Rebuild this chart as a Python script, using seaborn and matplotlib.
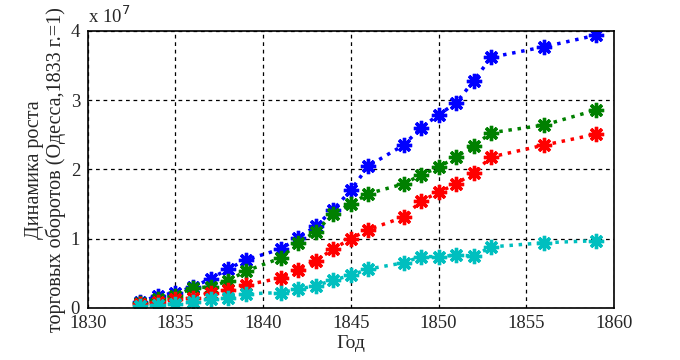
import numpy as np
import pandas as pd
import seaborn as sns
import matplotlib
matplotlib.use("Agg")
import matplotlib.pyplot as plt


years = [1833, 1834, 1835, 1836, 1837, 1838, 1839, 1841, 1842, 1843, 1844,
         1845, 1846, 1848, 1849, 1850, 1851, 1852, 1853, 1856, 1859]

# values in units of 1e7
blue = [0.09, 0.17, 0.22, 0.30, 0.42, 0.56, 0.69, 0.85, 1.01, 1.18, 1.42,
        1.70, 2.05, 2.35, 2.60, 2.79, 2.96, 3.28, 3.62, 3.77, 3.94]
green = [0.07, 0.12, 0.17, 0.29, 0.30, 0.39, 0.53, 0.72, 0.94, 1.10, 1.36,
         1.50, 1.65, 1.79, 1.92, 2.03, 2.18, 2.34, 2.53, 2.64, 2.86]
red = [0.05, 0.08, 0.12, 0.14, 0.22, 0.26, 0.33, 0.43, 0.55, 0.68, 0.85,
       1.00, 1.13, 1.31, 1.54, 1.67, 1.79, 1.95, 2.18, 2.35, 2.51]
cyan = [0.02, 0.04, 0.06, 0.09, 0.13, 0.14, 0.20, 0.22, 0.27, 0.32, 0.40,
        0.47, 0.56, 0.65, 0.74, 0.74, 0.76, 0.75, 0.88, 0.94, 0.97]

series = ["s1", "s2", "s3", "s4"]
colors = [(0, 0, 1), (0, 0.5, 0), (1, 0, 0), (0, 0.75, 0.75)]


def main():
  sns.set_style("white")
  plt.rcParams["font.family"] = ["Liberation Serif", "DejaVu Serif"]
  plt.rcParams["font.size"] = 13

  df = pd.DataFrame({
    "year": years * 4,
    "value": np.concatenate([blue, green, red, cyan]) * 1e7,
    "series": np.repeat(series, len(years)),
  })

  fig, ax = plt.subplots(figsize=(6.8, 3.6), dpi=100)
  fig.subplots_adjust(left=0.129, right=0.903, top=0.914, bottom=0.145)

  sns.lineplot(data=df, x="year", y="value", hue="series", palette=colors,
               linestyle=":", linewidth=2.5, legend=False, ax=ax)
  # MATLAB-style bold asterisk markers
  for line, c in zip(ax.get_lines(), colors):
    line.set_marker((8, 2, 0))
    line.set_markersize(11)
    line.set_markeredgewidth(2.4)
    line.set_markeredgecolor(c)
    line.set_markerfacecolor(c)

  ax.set_xlim(1830, 1860)
  ax.set_ylim(0, 4e7)
  ax.set_xticks(np.arange(1830, 1861, 5))
  ax.set_yticks(np.arange(0, 4.1e7, 1e7))
  ax.set_yticklabels(["0", "1", "2", "3", "4"])
  ax.grid(True, color="black", linestyle="--", linewidth=0.9, dashes=(3, 3))
  ax.tick_params(labelsize=13.5, pad=2)
  for s in ax.spines.values():
    s.set_color("black")
    s.set_linewidth(1.2)

  ax.set_xlabel("Год", fontsize=14, labelpad=2)
  ax.set_ylabel("Динамика роста\nторговых оборотов (Одесса,1833 г.=1)",
                fontsize=14.5, linespacing=1.05)
  ax.yaxis.set_label_coords(-0.042, 0.5)
  ax.text(0.0, 1.015, "x 10$^{7}$", transform=ax.transAxes, fontsize=13.5,
          ha="left", va="bottom")

  fig.savefig("out.png", dpi=100)


main()
